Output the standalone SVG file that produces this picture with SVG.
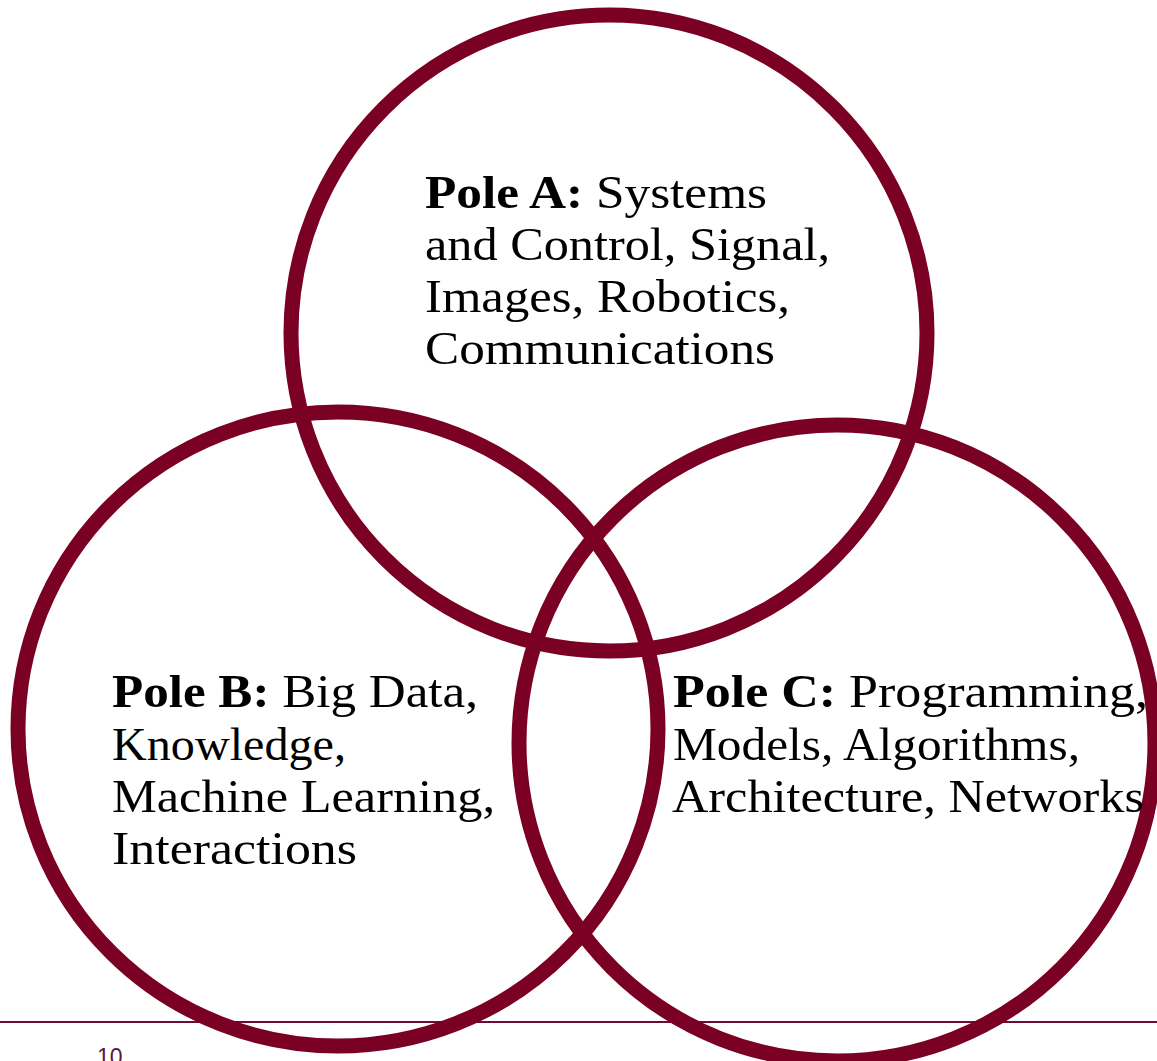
<svg xmlns="http://www.w3.org/2000/svg" width="1157" height="1061" viewBox="0 0 1157 1061">
<style>
.ring{fill:none;stroke:#7a0024;stroke-width:15}
.lbl{font-family:"Liberation Serif","Times New Roman",serif;font-size:47px;fill:#000}
.b{font-weight:bold}
.pg{font-family:"Liberation Sans",Arial,sans-serif;font-size:23px;fill:#5a1a3c}
</style>
<rect width="1157" height="1061" fill="#fff"/>
<g id="footer">
<line x1="0" y1="1022" x2="1157" y2="1022" stroke="#6e0a38" stroke-width="2"/>
<text class="pg" x="97" y="1065">10</text>
</g>
<g id="connectors"></g>
<g id="pole-a">
<circle class="ring" cx="609" cy="333" r="318"/>
<text class="lbl" x="425" y="208" textLength="342" lengthAdjust="spacingAndGlyphs"><tspan class="b">Pole A:</tspan> Systems</text>
<text class="lbl" x="425" y="260" textLength="405" lengthAdjust="spacingAndGlyphs">and Control, Signal,</text>
<text class="lbl" x="425" y="312" textLength="365" lengthAdjust="spacingAndGlyphs">Images, Robotics,</text>
<text class="lbl" x="425" y="364" textLength="350" lengthAdjust="spacingAndGlyphs">Communications</text>
</g>
<g id="pole-b">
<ellipse class="ring" cx="338" cy="729" rx="320" ry="317"/>
<text class="lbl" x="112" y="707" textLength="366" lengthAdjust="spacingAndGlyphs"><tspan class="b">Pole B:</tspan> Big Data,</text>
<text class="lbl" x="112" y="760" textLength="234" lengthAdjust="spacingAndGlyphs">Knowledge,</text>
<text class="lbl" x="112" y="812" textLength="383" lengthAdjust="spacingAndGlyphs">Machine Learning,</text>
<text class="lbl" x="112" y="864" textLength="245" lengthAdjust="spacingAndGlyphs">Interactions</text>
</g>
<g id="pole-c">
<circle class="ring" cx="837" cy="743" r="318"/>
<text class="lbl" x="673" y="707" textLength="475" lengthAdjust="spacingAndGlyphs"><tspan class="b">Pole C:</tspan> Programming,</text>
<text class="lbl" x="673" y="760" textLength="407" lengthAdjust="spacingAndGlyphs">Models, Algorithms,</text>
<text class="lbl" x="672" y="812" textLength="472" lengthAdjust="spacingAndGlyphs">Architecture, Networks</text>
</g>
</svg>
